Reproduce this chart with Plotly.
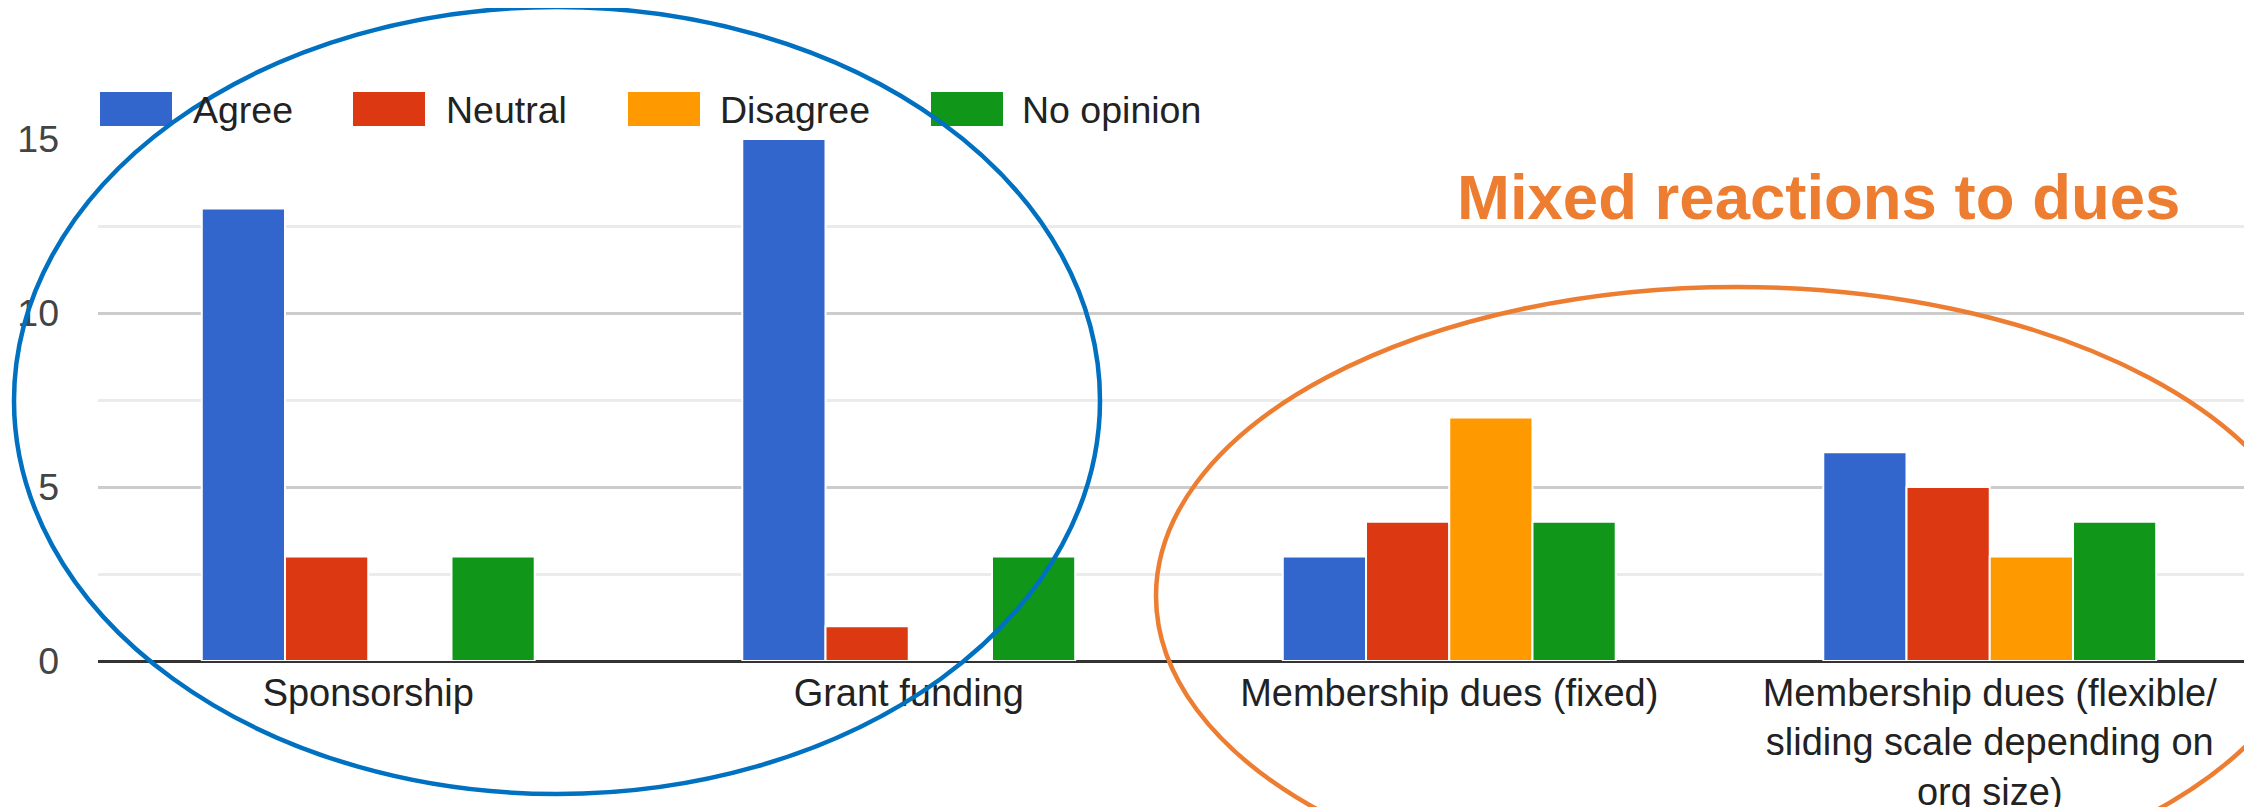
import plotly.graph_objects as go

# ---- data ----
categories = [
    "Sponsorship",
    "Grant funding",
    "Membership dues (fixed)",
    "Membership dues (flexible/<br>sliding scale depending on<br>org size)",
]
series_names = ["Agree", "Neutral", "Disagree", "No opinion"]
agree = [13, 15, 3, 6]
neutral = [3, 1, 4, 5]
disagree = [0, 0, 7, 3]
no_opinion = [3, 3, 4, 4]
series_values = [agree, neutral, disagree, no_opinion]
colors = ["#3366CC", "#DC3912", "#FF9900", "#109618"]
y_ticks = [0, 5, 10, 15]
callout = "Mixed reactions to dues"

# ---- layout geometry (pixels) ----
W, H = 2252, 807
OFF = 8  # page body margin
L, R, T = 98 - OFF, 0, 139 - OFF
PH = 522
B = H - T - PH
PW = W - L - R
FONT = "Arial, Liberation Sans, sans-serif"


def px(x):
    # screen x -> paper
    return (x - OFF - L) / PW


def py(y):
    # screen y -> paper
    return (T + PH - (y - OFF)) / PH


fig = go.Figure()
for name, vals, col in zip(series_names, series_values, colors):
    fig.add_trace(go.Bar(
        x=categories, y=vals, name=name,
        marker=dict(color=col, line=dict(color="white", width=2)),
        showlegend=False,
    ))

shapes = []
annotations = []

# manual legend (large swatches like the original)
leg_sw_x = [100, 353, 628, 931]
leg_txt_x = [191, 444, 718, 1020]
for name, col, sx, tx in zip(series_names, colors, leg_sw_x, leg_txt_x):
    shapes.append(dict(type="rect", xref="paper", yref="paper",
                       x0=px(sx), x1=px(sx + 72), y0=py(126), y1=py(92),
                       fillcolor=col, line=dict(width=0), layer="above"))
    annotations.append(dict(text=name, xref="paper", yref="paper",
                            x=px(tx), y=py(110), xanchor="left", yanchor="middle",
                            showarrow=False, font=dict(size=37.5, color="#222222", family=FONT)))

# highlight ellipses
shapes.append(dict(type="circle", xref="paper", yref="paper",
                   x0=px(14), x1=px(1100), y0=py(794), y1=py(7),
                   line=dict(color="#0070C0", width=4.5), layer="above"))
shapes.append(dict(type="circle", xref="paper", yref="paper",
                   x0=px(1156), x1=px(2319), y0=py(905), y1=py(287),
                   line=dict(color="#ED7D31", width=4.5), layer="above"))

annotations.append(dict(text="<b>" + callout + "</b>", xref="paper", yref="paper",
                        x=px(1818), y=py(197), xanchor="center", yanchor="middle",
                        showarrow=False, font=dict(size=63.5, color="#ED7D31", family=FONT)))

fig.update_layout(
    width=W, height=H,
    margin=dict(l=L, r=R, t=T, b=B, pad=0),
    paper_bgcolor="white", plot_bgcolor="white",
    barmode="group", bargap=0.384, bargroupgap=0,
    font=dict(family=FONT),
    shapes=shapes, annotations=annotations,
    showlegend=False,
)
fig.update_xaxes(
    type="category", showgrid=False, showline=False, ticks="",
    tickfont=dict(size=38, color="#222222", family=FONT),
    ticklabelstandoff=6,
)
fig.update_yaxes(
    range=[0, 15], tickvals=y_ticks, ticktext=[str(v) for v in y_ticks],
    showgrid=True, gridcolor="#CCCCCC", gridwidth=3,
    minor=dict(dtick=2.5, showgrid=True, gridcolor="#EBEBEB", gridwidth=3),
    zeroline=True, zerolinecolor="#333333", zerolinewidth=3,
    showline=False, ticks="",
    tickfont=dict(size=37.5, color="#444444", family=FONT),
    ticklabelstandoff=38,
)

fig.write_html("out.html")
